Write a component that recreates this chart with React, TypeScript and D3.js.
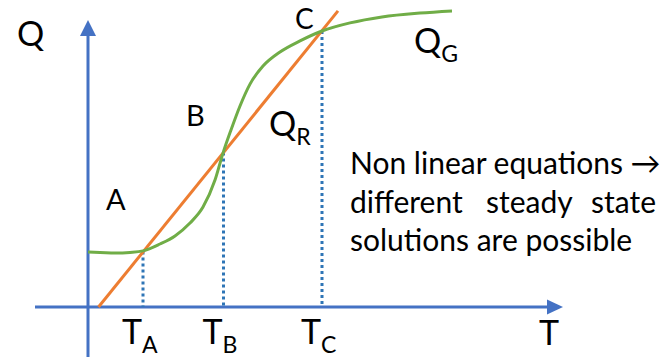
import React from "react";
import * as d3 from "d3";

// Data (abstract units: T horizontal, Q vertical)
const qgT = [0, 2.4, 5.4, 8.4, 11, 14.4, 17.4, 20.4, 23, 25.4, 27, 28.6, 30.4, 32.4, 35, 38.4, 42.4, 46.8, 52.4, 58.8, 66.4, 72.8];
const qgQ = [18.3, 18.2, 18.0, 18.2, 18.7, 21, 23.7, 28, 33.3, 42.3, 51.3, 59, 67, 74.3, 80.3, 85, 88.7, 92, 94.7, 96.7, 98, 98.7];
const qrT = [2.1, 50];
const qrQ = [0, 98.7];
const steadyNames = ["A", "B", "C"];
const steadyT = [11, 27.1, 46.8];
const steadyQ = [18.5, 51.5, 92];
const textLines = ["Non linear equations \u2192", "different steady state", "solutions are possible"];

const W = 662;
const H = 357;
const FONT = "Lato, 'Open Sans', sans-serif";
const AXIS = "#4472c4";
const DOT = "#2e75b6";
const ORANGE = "#ed7d31";
const GREEN = "#70ad47";

export default function App() {
  const x = d3.scaleLinear().domain([0, 95]).range([88, 563]);
  const y = d3.scaleLinear().domain([0, 100]).range([307, 7]);

  const gPts: [number, number][] = qgT.map((t, i) => [t, qgQ[i]]);
  const rPts: [number, number][] = qrT.map((t, i) => [t, qrQ[i]]);
  const line = d3
    .line<[number, number]>()
    .x((d) => x(d[0]))
    .y((d) => y(d[1]))
    .curve(d3.curveMonotoneX);
  const straight = d3
    .line<[number, number]>()
    .x((d) => x(d[0]))
    .y((d) => y(d[1]));

  const x0 = x(0);
  const y0 = y(0);
  const words = textLines[1].split(" ");

  return (
    <svg
      width={W}
      height={H}
      style={{ position: "absolute", left: 0, top: 0, background: "#fff" }}
      fontFamily={FONT}
    >
      {/* axes */}
      <line x1={35} y1={y0} x2={550} y2={y0} stroke={AXIS} strokeWidth={3} />
      <path d={`M${563},${y0} L${547},${y0 - 7.5} L${547},${y0 + 7.5} Z`} fill={AXIS} />
      <line x1={x0} y1={H} x2={x0} y2={33} stroke={AXIS} strokeWidth={3} />
      <path d={`M${x0},20 L${x0 - 8},36 L${x0 + 8},36 Z`} fill={AXIS} />

      {/* dotted verticals */}
      {steadyT.map((t, i) => (
        <line
          key={"d" + i}
          x1={x(t)}
          x2={x(t)}
          y1={y(steadyQ[i])}
          y2={y0}
          stroke={DOT}
          strokeWidth={3}
          strokeDasharray="3 3"
        />
      ))}

      {/* QR line */}
      <path d={straight(rPts) || ""} fill="none" stroke={ORANGE} strokeWidth={3} />
      {/* QG curve */}
      <path d={line(gPts) || ""} fill="none" stroke={GREEN} strokeWidth={3} />

      {/* labels */}
      <text x={17} y={46} fontSize={34} fill="#000">Q</text>
      <text x={539} y={345} fontSize={34} fill="#000">T</text>
      {steadyT.map((t, i) => (
        <text key={"t" + i} x={x(t) - 21} y={344} fontSize={34} fill="#000">
          T
          <tspan fontSize={23} dy={9}>{steadyNames[i]}</tspan>
        </text>
      ))}
      <text x={106} y={210} fontSize={29} fill="#000">A</text>
      <text x={186} y={126} fontSize={29} fill="#000">B</text>
      <text x={295} y={29} fontSize={28} fill="#000">C</text>
      <text x={269} y={136} fontSize={34} fill="#000">
        Q<tspan fontSize={23} dy={9}>R</tspan>
      </text>
      <text x={414} y={53} fontSize={34} fill="#000">
        Q<tspan fontSize={23} dy={9}>G</tspan>
      </text>

      {/* annotation */}
      <text x={350} y={174} fontSize={30} fill="#000">{textLines[0]}</text>
      <text x={350} y={212.5} fontSize={30} fill="#000">{words[0]}</text>
      <text x={486} y={212.5} fontSize={30} fill="#000">{words[1]}</text>
      <text x={656} y={212.5} fontSize={30} fill="#000" textAnchor="end">{words[2]}</text>
      <text x={350} y={250.5} fontSize={30} fill="#000">{textLines[2]}</text>
    </svg>
  );
}
